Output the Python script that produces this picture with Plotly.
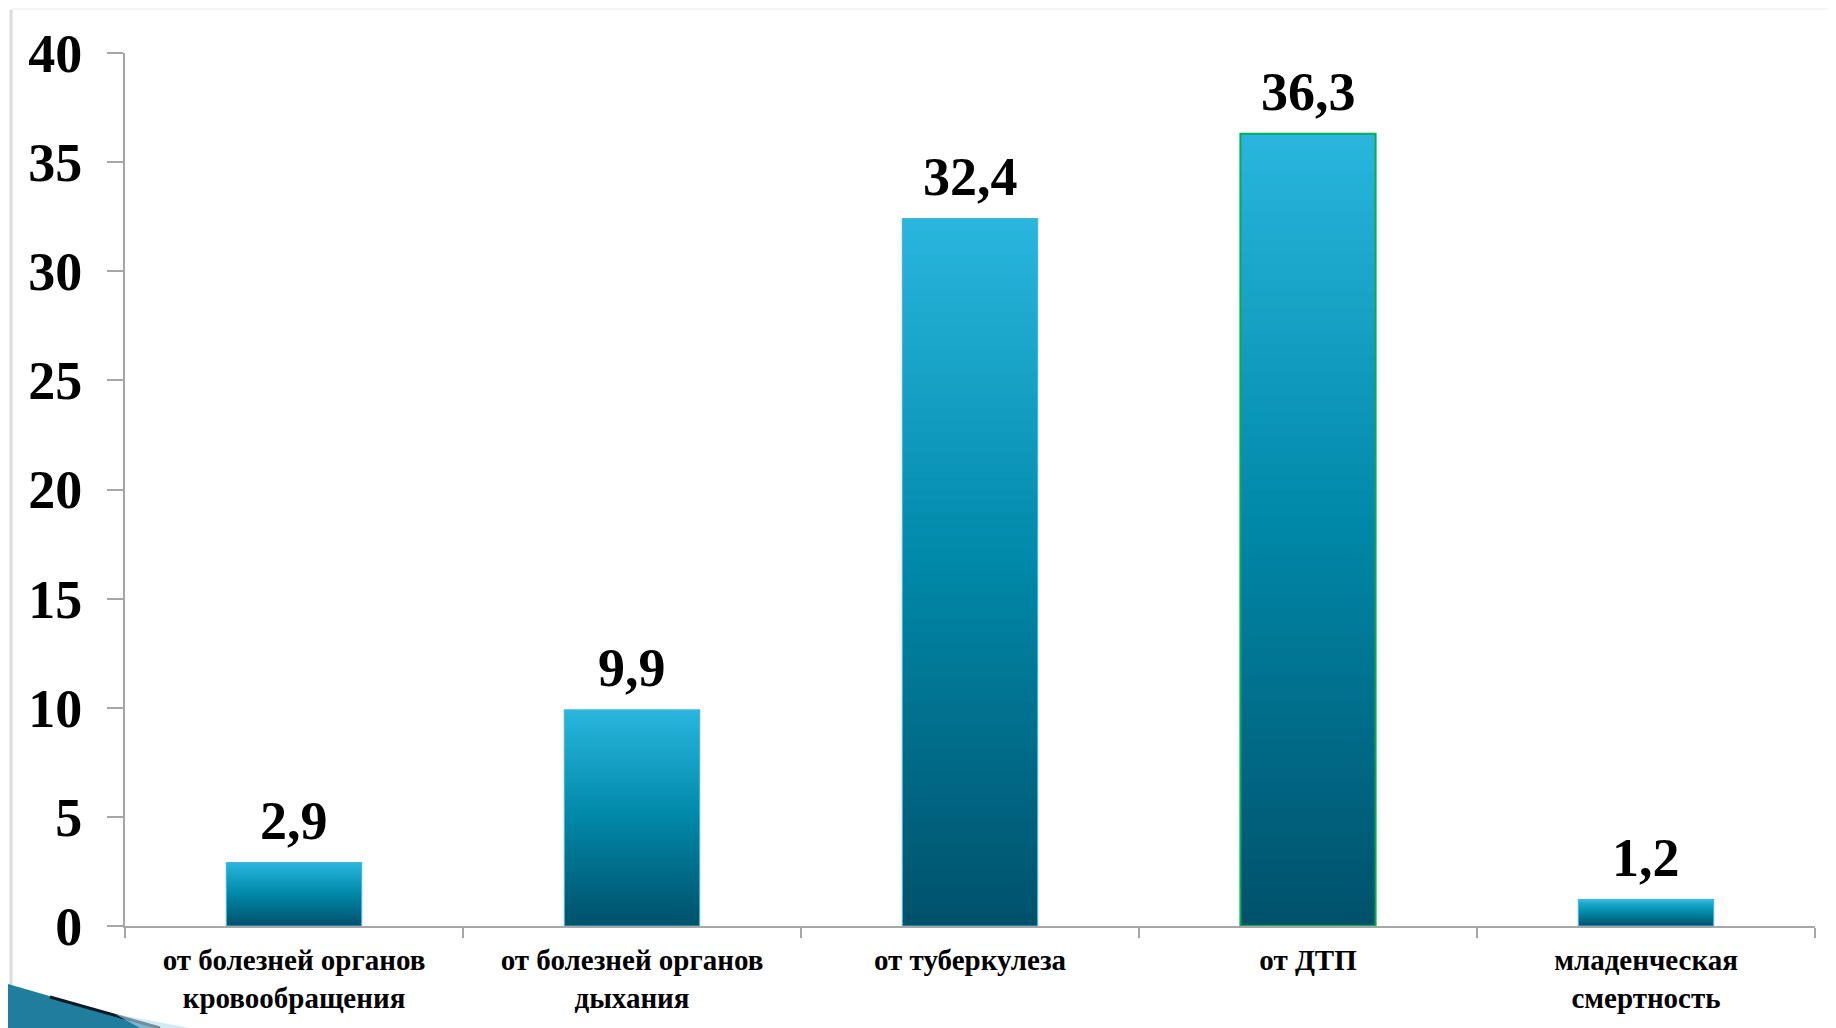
import plotly.graph_objects as go

categories = ["от болезней органов<br>кровообращения", "от болезней органов<br>дыхания",
              "от туберкулеза", "от ДТП", "младенческая<br>смертность"]
values = [2.9, 9.9, 32.4, 36.3, 1.2]
value_labels = ["2,9", "9,9", "32,4", "36,3", "1,2"]
y_ticks = [0, 5, 10, 15, 20, 25, 30, 35, 40]

# page has an 8px body margin, so the figure occupies page 8..1836
OFF = 8
W, H = 1836 - OFF, 1028 - OFF
ML, MR, MT, MB = 125 - OFF, 21, 53 - OFF, 102

# gradient colours: bottom (dark) -> middle -> top (light)
stops = [(0.0, (0x00, 0x52, 0x6C)), (0.5, (0x00, 0x88, 0xA8)), (1.0, (0x2A, 0xB7, 0xDF))]


def grad(t):
    for (t0, c0), (t1, c1) in zip(stops[:-1], stops[1:]):
        if t0 <= t <= t1:
            f = (t - t0) / (t1 - t0)
            return "rgb(%d,%d,%d)" % tuple(round(a + (b - a) * f) for a, b in zip(c0, c1))
    return "rgb(%d,%d,%d)" % stops[-1][1]


N = 60
fig = go.Figure()
for i in range(N):
    frac = i / N
    fig.add_trace(go.Bar(
        x=categories,
        y=[v * (1 - frac) for v in values],
        base=[v * frac for v in values],
        marker=dict(color=grad(frac), line=dict(width=0)),
        width=0.4, hoverinfo="skip", showlegend=False,
    ))

# outlines
line_colors = ["#45B4D6", "#45B4D6", "#45B4D6", "#00B050", "#45B4D6"]
line_widths = [1.2, 1.2, 1.2, 2, 1.2]
fig.add_trace(go.Bar(
    x=categories, y=values,
    marker=dict(color="rgba(0,0,0,0)", line=dict(color=line_colors, width=line_widths)),
    width=0.4, showlegend=False,
))

annotations = [
    dict(x=c, y=v, text=t, xref="x", yref="y", showarrow=False,
         yanchor="bottom", yshift=10,
         font=dict(family="Liberation Serif", size=54, color="black", weight="bold"))
    for c, v, t in zip(categories, values, value_labels)
]


# helpers converting page pixel positions to paper coordinates
def px(xp):
    return (xp - OFF - ML) / (W - ML - MR)


def py(yp):
    return (H - MB - (yp - OFF)) / (H - MT - MB)


shapes = [
    # left page border
    dict(type="line", xref="paper", yref="paper", x0=px(11), x1=px(11), y0=py(10), y1=py(1028),
         line=dict(color="#dcdcdc", width=3), layer="below"),
    dict(type="line", xref="paper", yref="paper", x0=px(11), x1=px(1836), y0=py(9), y1=py(9),
         line=dict(color="#f4f4f4", width=2), layer="below"),
    # bottom-left swoosh
    dict(type="path", xref="paper", yref="paper",
         path="M %f,%f L %f,%f L %f,%f L %f,%f Z" % (px(8), py(984), px(160), py(1028), px(8), py(1028), px(8), py(984)),
         fillcolor="#1F7E9E", line=dict(width=0), layer="above"),
    dict(type="line", xref="paper", yref="paper", x0=px(50), y0=py(997), x1=px(160), y1=py(1028),
         line=dict(color="#0d1a22", width=3)),
    dict(type="path", xref="paper", yref="paper",
         path="M %f,%f L %f,%f L %f,%f Z" % (px(115), py(1014), px(190), py(1028), px(140), py(1028)),
         fillcolor="rgba(180,220,235,0.6)", line=dict(width=0)),
]

fig.update_layout(
    width=W, height=H,
    margin=dict(l=ML, r=MR, t=MT, b=MB, autoexpand=False),
    paper_bgcolor="white", plot_bgcolor="white",
    barmode="overlay", bargap=0.6,
    shapes=shapes, annotations=annotations,
    xaxis=dict(
        showline=True, linecolor="#a6a6a6", linewidth=2, automargin=False,
        ticks="outside", tickson="boundaries", ticklen=10, tickcolor="#a6a6a6", tickwidth=1.5,
        tickfont=dict(family="Liberation Serif", size=29, color="black", weight="bold"),
        showgrid=False, zeroline=False, ticklabelstandoff=7,
    ),
    yaxis=dict(
        range=[0, 40], tickvals=y_ticks, ticktext=[str(t) for t in y_ticks],
        showline=True, linecolor="#a6a6a6", linewidth=2, automargin=False,
        ticks="outside", ticklen=16, tickcolor="#a6a6a6", tickwidth=1.5,
        tickfont=dict(family="Liberation Serif", size=54, color="black", weight="bold"),
        showgrid=False, zeroline=False, ticklabelstandoff=14,
    ),
)

fig.write_html("out.html")
